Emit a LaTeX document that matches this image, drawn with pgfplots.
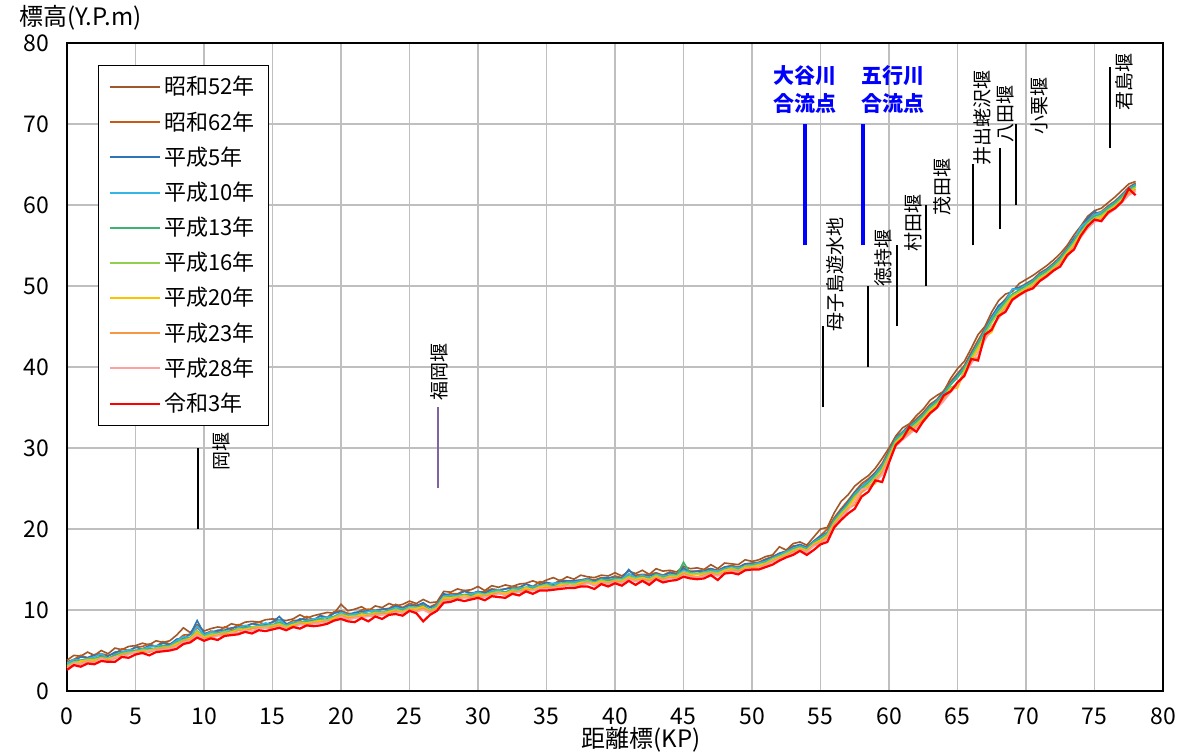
\documentclass[border=0pt]{standalone}
\usepackage{fontspec}
\setmainfont{Noto Sans CJK JP}
\usepackage{pgfplots}
\usepackage{pgfplotstable}
\pgfplotsset{compat=1.18}
\definecolor{cA}{HTML}{A0582A}
\definecolor{cB}{HTML}{C55A11}
\definecolor{cC}{HTML}{2E75B6}
\definecolor{cD}{HTML}{33B5E8}
\definecolor{cE}{HTML}{3CB371}
\definecolor{cF}{HTML}{8FD14F}
\definecolor{cG}{HTML}{FFC000}
\definecolor{cH}{HTML}{F79646}
\definecolor{cI}{HTML}{FFA0A0}
\definecolor{cJ}{HTML}{FF0000}
\definecolor{weirpurple}{HTML}{8064A2}
\definecolor{gridgray}{HTML}{BFBFBF}
\pgfplotstableread{
x a b c d e f g h i j
0.0 3.8 3.6 3.5 3.4 3.2 3.1 3.0 2.9 2.8 2.6
0.5 4.4 3.9 3.7 3.9 3.6 3.6 3.3 3.4 3.4 3.2
1.0 4.3 4.4 4.2 3.8 3.8 3.6 3.7 3.4 3.3 3.0
1.5 4.8 4.1 4.1 4.0 3.9 3.9 3.8 3.7 3.6 3.4
2.0 4.4 4.5 4.4 4.2 4.0 3.9 3.8 3.6 3.5 3.3
2.5 5.0 4.6 4.4 4.6 4.3 4.1 4.0 4.1 4.0 3.7
3.0 4.6 4.4 4.3 4.0 4.0 4.0 3.9 3.8 3.6 3.6
3.5 5.3 4.6 4.8 4.5 4.4 4.2 4.2 4.0 4.2 3.6
4.0 5.1 5.2 4.9 4.8 4.7 4.6 4.5 4.5 4.2 4.2
4.5 5.5 5.0 4.9 5.1 4.8 4.8 4.5 4.6 4.5 4.1
5.0 5.6 5.4 5.4 5.0 5.0 4.8 4.9 4.7 4.8 4.5
5.5 5.9 5.5 5.2 5.2 5.1 5.1 4.9 4.9 4.6 4.7
6.0 5.7 5.8 5.6 5.4 5.2 5.0 5.0 4.8 5.0 4.4
6.5 6.2 5.5 5.5 5.6 5.3 5.3 5.1 5.1 5.0 4.8
7.0 6.0 6.1 5.9 5.6 5.6 5.4 5.3 5.3 5.1 4.9
7.5 6.2 5.8 5.7 5.6 5.5 5.5 5.3 5.3 5.2 5.0
8.0 6.9 6.2 6.4 6.2 6.0 5.9 5.8 5.6 5.5 5.2
8.5 7.8 6.9 6.5 6.7 6.4 6.3 6.1 6.2 6.0 5.8
9.0 7.2 7.0 7.0 6.6 6.6 6.5 6.5 6.3 6.2 6.0
9.5 8.2 7.8 8.7 8.0 7.4 7.4 7.2 7.0 6.9 6.6
10.0 7.4 7.0 7.1 6.9 6.8 6.7 6.6 6.5 6.4 6.2
10.5 7.7 7.4 7.2 7.3 7.0 7.0 6.8 6.7 6.5 6.5
11.0 7.9 7.3 7.5 7.2 7.1 7.0 7.0 6.9 6.8 6.3
11.5 7.8 7.9 7.5 7.4 7.3 7.3 7.0 7.1 6.8 6.8
12.0 8.3 7.6 7.8 7.4 7.4 7.2 7.3 7.0 7.1 6.9
12.5 8.1 8.2 7.9 7.8 7.7 7.7 7.5 7.5 7.2 7.0
13.0 8.5 8.0 7.9 8.1 7.8 7.6 7.6 7.4 7.5 7.3
13.5 8.6 8.3 8.3 7.9 7.9 7.9 7.7 7.7 7.4 7.1
14.0 8.5 8.5 8.2 8.1 8.0 7.9 7.9 7.8 7.7 7.5
14.5 8.8 8.2 8.2 8.4 8.1 8.0 7.8 7.8 7.8 7.4
15.0 8.9 8.5 8.5 8.1 8.1 8.1 8.0 7.9 7.6 7.6
15.5 8.8 8.8 9.2 8.8 8.5 8.3 8.2 8.1 8.0 7.8
16.0 8.7 8.2 8.3 8.1 8.0 8.0 7.8 7.7 7.7 7.5
16.5 8.9 8.7 8.4 8.5 8.3 8.2 8.2 8.0 7.8 7.9
17.0 9.4 8.7 8.9 8.5 8.5 8.5 8.3 8.3 8.2 7.7
17.5 9.0 9.2 8.8 8.7 8.6 8.4 8.4 8.2 8.1 8.1
18.0 9.3 8.8 8.7 8.9 8.6 8.6 8.5 8.4 8.3 8.0
18.5 9.5 9.3 9.3 9.0 8.9 8.7 8.7 8.5 8.4 8.1
19.0 9.7 9.1 9.0 9.1 8.8 8.8 8.5 8.6 8.5 8.3
19.5 9.6 9.8 9.6 9.2 9.2 9.1 9.0 8.8 8.7 8.7
20.0 10.7 9.9 9.8 9.7 9.5 9.5 9.3 9.3 9.2 8.9
20.5 9.9 9.6 9.4 9.4 9.3 9.2 9.2 9.0 8.8 8.6
21.0 10.1 9.5 9.7 9.5 9.3 9.3 9.1 9.1 9.0 8.5
21.5 10.4 10.0 9.8 9.6 9.6 9.4 9.5 9.2 9.1 9.0
22.0 9.9 10.1 9.9 9.8 9.5 9.5 9.3 9.3 9.2 8.6
22.5 10.5 10.0 9.9 10.0 9.8 9.7 9.6 9.5 9.3 9.2
23.0 10.3 10.1 10.1 9.7 9.7 9.7 9.4 9.5 9.4 8.9
23.5 10.8 10.2 10.1 10.0 9.9 9.8 9.8 9.6 9.4 9.4
24.0 10.5 10.7 10.5 10.3 10.1 10.1 9.9 9.9 9.7 9.5
24.5 10.7 10.3 10.2 10.1 10.0 9.8 9.8 9.6 9.7 9.3
25.0 11.1 10.8 10.6 10.4 10.3 10.3 10.0 10.1 9.9 9.9
25.5 10.8 10.6 10.5 10.3 10.3 10.2 10.2 9.9 9.8 9.6
26.0 11.3 10.7 10.9 10.6 10.5 10.3 10.4 10.2 10.0 8.6
26.5 10.9 10.4 10.3 10.0 10.0 10.0 9.8 9.8 9.6 9.4
27.0 11.0 10.8 10.6 10.6 10.4 10.3 10.2 10.1 10.0 9.9
27.5 12.3 11.8 12.0 11.7 11.6 11.6 11.4 11.3 11.1 10.9
28.0 12.2 12.0 11.8 11.8 11.6 11.5 11.5 11.3 11.2 11.0
28.5 12.6 12.0 11.9 11.8 11.7 11.7 11.4 11.5 11.3 11.3
29.0 12.4 12.4 12.3 11.9 11.9 11.8 11.8 11.5 11.6 11.1
29.5 12.5 12.1 12.0 12.0 11.8 11.6 11.6 11.6 11.4 11.3
30.0 12.9 12.2 12.3 12.2 12.0 12.0 11.9 11.7 11.5 11.5
30.5 12.4 12.3 12.1 11.9 11.9 11.9 11.7 11.7 11.6 11.2
31.0 13.0 12.6 12.5 12.3 12.2 12.1 12.0 11.9 11.7 11.7
31.5 12.8 12.5 12.4 12.5 12.3 12.3 12.1 12.1 12.0 11.6
32.0 13.1 12.6 12.6 12.2 12.2 12.0 12.1 11.8 11.9 11.5
32.5 12.9 12.9 12.7 12.6 12.5 12.5 12.3 12.2 12.0 12.0
33.0 13.2 12.8 12.7 12.7 12.5 12.4 12.2 12.3 12.2 11.8
33.5 13.3 13.2 13.2 12.8 12.8 12.8 12.7 12.5 12.3 12.3
34.0 13.6 12.9 12.9 12.9 12.7 12.5 12.5 12.4 12.4 12.0
34.5 13.3 13.5 13.1 13.0 12.9 12.9 12.8 12.6 12.6 12.4
35.0 13.7 13.4 13.4 13.1 13.1 13.1 12.9 12.8 12.6 12.4
35.5 14.0 13.2 13.2 13.3 13.0 12.8 12.7 12.8 12.7 12.5
36.0 13.6 13.7 13.5 13.3 13.2 13.2 13.1 12.9 12.8 12.6
36.5 14.1 13.6 13.6 13.4 13.4 13.3 13.1 13.1 13.0 12.7
37.0 13.8 13.6 13.6 13.4 13.2 13.2 13.0 12.9 12.9 12.7
37.5 14.3 13.7 13.7 13.6 13.5 13.4 13.4 13.2 13.0 12.9
38.0 14.1 13.9 13.8 13.8 13.6 13.6 13.3 13.4 13.3 12.9
38.5 14.0 13.7 13.6 13.4 13.4 13.3 13.3 13.0 13.1 12.6
39.0 14.3 14.0 13.9 13.8 13.7 13.7 13.5 13.4 13.3 13.2
39.5 14.2 13.9 14.0 13.7 13.6 13.4 13.4 13.3 13.2 12.9
40.0 14.6 14.2 14.0 13.9 13.8 13.7 13.6 13.6 13.4 13.3
40.5 14.2 14.0 13.9 13.8 13.7 13.7 13.5 13.4 13.3 13.0
41.0 14.8 14.4 15.0 14.5 14.2 14.1 14.0 13.9 13.8 13.6
41.5 14.5 14.3 14.1 14.0 13.9 13.9 13.7 13.6 13.5 13.1
42.0 14.9 14.4 14.3 14.3 14.1 14.0 14.0 13.8 13.7 13.6
42.5 14.4 14.4 14.2 13.9 13.9 13.8 13.7 13.6 13.4 13.1
43.0 15.1 14.6 14.5 14.4 14.3 14.3 14.1 14.0 13.9 13.8
43.5 14.8 14.3 14.2 14.2 14.0 13.9 13.8 13.8 13.6 13.4
44.0 14.9 14.7 14.6 14.3 14.3 14.2 14.1 14.0 13.9 13.6
44.5 14.7 14.5 14.4 14.3 14.2 14.2 14.0 13.9 13.8 13.7
45.0 15.4 15.0 15.2 14.9 15.9 14.7 14.6 14.5 14.3 14.1
45.5 15.1 14.8 14.7 14.6 14.5 14.5 14.3 14.2 14.1 13.9
46.0 15.2 14.8 14.8 14.5 14.5 14.4 14.4 14.1 14.0 13.8
46.5 15.0 15.0 14.8 14.7 14.6 14.6 14.4 14.3 14.2 13.9
47.0 15.6 15.1 15.1 14.9 14.8 14.7 14.6 14.6 14.4 14.3
47.5 15.1 14.9 14.8 14.8 14.6 14.6 14.4 14.3 14.2 13.7
48.0 15.8 15.3 15.3 15.1 15.0 14.9 14.9 14.7 14.6 14.5
48.5 15.7 15.5 15.4 15.3 15.2 15.2 15.0 14.9 14.8 14.6
49.0 15.6 15.3 15.2 15.2 15.0 14.9 14.8 14.8 14.6 14.4
49.5 16.2 15.7 15.7 15.4 15.4 15.4 15.2 15.1 15.0 14.9
50.0 16.0 15.8 15.7 15.6 15.5 15.4 15.3 15.2 15.1 15.0
50.5 16.2 15.9 15.8 15.8 15.6 15.6 15.5 15.3 15.2 15.0
51.0 16.6 16.3 16.2 16.0 15.9 15.8 15.7 15.6 15.5 15.3
51.5 16.8 16.6 16.5 16.4 16.3 16.3 16.1 16.0 15.9 15.6
52.0 17.8 17.0 17.0 16.8 16.7 16.6 16.5 16.4 16.3 16.1
52.5 17.4 17.3 17.2 17.2 17.0 17.0 16.8 16.7 16.6 16.5
53.0 18.2 17.9 17.8 17.6 17.5 17.4 17.3 17.2 17.0 16.8
53.5 18.4 18.0 18.1 17.9 17.8 17.7 17.6 17.5 17.4 17.3
54.0 18.0 17.8 17.7 17.6 17.5 17.4 17.3 17.2 17.1 16.8
54.5 19.0 18.5 18.5 18.4 18.3 18.2 18.1 18.0 17.9 17.4
55.0 20.0 19.2 19.1 18.9 18.8 18.6 18.6 18.4 18.2 18.1
55.5 20.2 20.0 19.6 19.5 19.4 19.3 19.1 19.0 18.8 18.4
56.0 22.0 21.4 21.2 21.1 21.0 20.8 20.7 20.6 20.3 20.2
56.5 23.4 22.5 22.3 22.1 22.0 21.9 21.7 21.5 21.4 21.1
57.0 24.2 23.5 23.3 23.1 23.0 22.8 22.6 22.5 22.3 21.9
57.5 25.3 24.6 24.5 24.3 24.2 24.0 23.8 23.0 23.4 22.5
58.0 26.0 25.6 25.3 25.2 25.0 24.8 24.6 24.5 24.9 24.0
58.5 26.6 26.2 26.0 25.9 25.7 25.5 25.3 25.1 25.0 24.6
59.0 27.5 27.0 26.9 26.7 26.6 26.4 25.6 26.1 25.8 26.0
59.5 28.7 28.1 27.9 27.8 27.6 27.4 27.2 27.0 26.7 25.8
60.0 30.0 29.7 29.5 29.4 29.3 29.1 28.8 28.7 28.5 28.2
60.5 31.5 31.3 31.2 31.1 31.0 30.8 30.6 30.4 30.2 30.4
61.0 32.5 32.0 32.0 31.9 31.8 31.6 31.4 31.2 31.0 31.2
61.5 33.0 32.9 32.7 32.6 32.5 32.3 32.1 31.9 31.7 32.6
62.0 34.0 33.6 33.4 33.3 33.2 33.0 32.8 32.7 32.5 32.0
62.5 34.8 34.4 34.2 34.1 34.0 33.8 33.6 33.5 33.2 33.3
63.0 35.9 35.4 35.2 35.1 35.0 34.8 34.6 34.4 34.2 34.3
63.5 36.5 36.0 35.9 35.8 35.7 35.5 35.3 35.1 34.9 35.0
64.0 37.0 37.1 36.9 36.7 36.6 36.4 36.1 36.0 35.8 36.5
64.5 38.6 38.2 38.0 37.9 37.8 37.5 37.3 37.1 36.9 37.0
65.0 39.8 39.2 39.0 38.8 38.7 37.8 37.4 38.0 37.8 38.1
65.5 40.7 40.2 40.0 39.9 39.8 39.6 39.4 39.2 39.0 38.9
66.0 42.3 41.8 41.6 41.4 41.3 41.1 40.8 40.6 40.4 41.0
66.5 44.0 43.3 43.0 42.9 42.8 42.5 42.2 41.2 41.8 40.8
67.0 45.0 44.8 44.6 44.5 44.3 44.0 43.7 43.5 43.3 44.0
67.5 46.8 46.3 46.2 46.0 45.8 45.5 44.3 45.0 44.8 44.6
68.0 48.2 47.4 47.6 47.2 47.0 46.7 46.4 46.2 46.0 46.3
68.5 49.0 48.4 48.2 48.1 48.0 47.8 47.5 47.3 47.1 46.8
69.0 49.3 49.5 49.6 49.6 49.0 48.8 48.6 48.4 48.2 48.3
69.5 50.3 49.8 49.8 49.6 49.5 49.3 49.1 48.9 48.8 48.9
70.0 50.8 50.3 50.2 50.1 50.0 49.8 49.6 49.5 49.3 49.4
70.5 51.3 50.8 50.7 50.6 50.5 50.3 50.1 50.0 49.8 49.7
71.0 51.9 51.6 51.5 51.4 51.3 51.1 50.9 50.8 50.6 50.6
71.5 52.5 52.1 52.0 51.9 51.8 51.6 51.4 51.3 51.1 51.2
72.0 53.2 52.8 52.7 52.6 52.5 52.3 52.1 52.0 51.8 51.9
72.5 54.0 53.6 53.5 53.4 53.3 53.1 52.9 52.8 52.6 52.4
73.0 55.0 54.7 54.6 54.5 54.4 54.2 54.0 53.8 53.6 53.8
73.5 56.3 55.8 55.9 55.6 55.5 55.3 55.1 54.9 54.7 54.5
74.0 57.4 57.0 57.0 57.3 56.8 56.6 56.4 56.2 56.0 56.2
74.5 58.6 58.2 58.4 58.0 57.9 57.7 57.5 57.3 57.1 57.4
75.0 59.3 58.9 59.2 58.8 58.6 58.4 58.2 58.0 57.9 58.2
75.5 59.6 59.2 58.7 59.1 58.9 58.7 58.5 58.3 58.2 58.0
76.0 60.3 59.9 59.8 59.7 59.6 59.4 59.2 59.0 58.9 59.1
76.5 61.0 60.5 60.4 60.3 60.2 60.0 59.8 59.7 59.5 59.6
77.0 61.8 61.3 61.2 61.1 61.0 60.8 60.6 60.5 60.3 60.4
77.5 62.6 62.2 62.1 62.0 61.9 61.7 61.5 61.4 61.2 62.0
78.0 62.9 62.7 62.6 62.5 62.4 62.2 62.0 61.9 61.7 61.2
}\profile
\begin{document}
\begin{tikzpicture}
\begin{axis}[
  scale only axis,
  width=548pt, height=324pt,
  xmin=0, xmax=80, ymin=0, ymax=80,
  xtick={0,5,...,80}, ytick={0,10,...,80},
  major tick length=0pt,
  grid=major,
  major grid style={gridgray, line width=0.7pt},
  axis line style={black, line width=1.2pt},
  /pgf/number format/assume math mode=true,
  ticklabel style={font=\fontsize{11.5}{13}\selectfont},
  yticklabel style={anchor=east, xshift=-5.5pt},
  xticklabel style={anchor=base, yshift=-16.5pt},
  xlabel={距離標(KP)},
  ylabel={標高(Y.P.m)},
  every axis x label/.style={at={(rel axis cs:0.524,0)}, anchor=base, yshift=-28pt, font=\fontsize{12}{13}\selectfont},
  every axis y label/.style={at={(rel axis cs:0,1)}, anchor=base west, xshift=-27.5pt, yshift=8.5pt, font=\fontsize{12}{13}\selectfont},
  clip=false,
  legend style={at={(0.0283,0.966)}, anchor=north west, draw=black, line width=0.5pt,
    font=\fontsize{11}{12}\selectfont, row sep=0pt, inner xsep=5pt, inner ysep=2pt,
    nodes={inner ysep=3.4pt}},
  legend cell align=left,
  legend image code/.code={\draw[line width=1pt] (0pt,0pt) -- (25pt,0pt);},
]
\addplot[cA, line width=0.8pt] table[x=x,y=a]{\profile};
\addlegendentry{昭和52年}
\addplot[cB, line width=0.8pt] table[x=x,y=b]{\profile};
\addlegendentry{昭和62年}
\addplot[cC, line width=0.8pt] table[x=x,y=c]{\profile};
\addlegendentry{平成5年}
\addplot[cD, line width=0.8pt] table[x=x,y=d]{\profile};
\addlegendentry{平成10年}
\addplot[cE, line width=0.8pt] table[x=x,y=e]{\profile};
\addlegendentry{平成13年}
\addplot[cF, line width=0.8pt] table[x=x,y=f]{\profile};
\addlegendentry{平成16年}
\addplot[cG, line width=0.8pt] table[x=x,y=g]{\profile};
\addlegendentry{平成20年}
\addplot[cH, line width=0.8pt] table[x=x,y=h]{\profile};
\addlegendentry{平成23年}
\addplot[cI, line width=0.8pt] table[x=x,y=i]{\profile};
\addlegendentry{平成28年}
\addplot[cJ, line width=1.1pt] table[x=x,y=j]{\profile};
\addlegendentry{令和3年}
% annotation lines
\addplot[black, line width=1pt, forget plot] coordinates {(9.55,20) (9.55,30)};
\addplot[weirpurple, line width=1pt, forget plot] coordinates {(27.1,25) (27.1,35)};
\addplot[blue, line width=2pt, forget plot] coordinates {(53.9,55) (53.9,70)};
\addplot[blue, line width=2pt, forget plot] coordinates {(58.1,55) (58.1,70)};
\addplot[black, line width=1pt, forget plot] coordinates {(55.2,35) (55.2,45)};
\addplot[black, line width=1pt, forget plot] coordinates {(58.5,40) (58.5,50)};
\addplot[black, line width=1pt, forget plot] coordinates {(60.6,45) (60.6,55)};
\addplot[black, line width=1pt, forget plot] coordinates {(62.7,50) (62.7,60)};
\addplot[black, line width=1pt, forget plot] coordinates {(66.1,55) (66.1,65)};
\addplot[black, line width=1pt, forget plot] coordinates {(68.1,57) (68.1,67)};
\addplot[black, line width=1pt, forget plot] coordinates {(69.3,60) (69.3,70)};
\addplot[black, line width=1pt, forget plot] coordinates {(76.1,67) (76.1,77)};
% labels
\begin{scope}[every node/.style={rotate=90, anchor=east, inner sep=0pt, font=\fontsize{9.5}{10}\selectfont}]
\node at (axis cs:11.3,32.0) {岡堰};
\node at (axis cs:27.2,43.0) {福岡堰};
\node at (axis cs:56.1,58.5) {母子島遊水地};
\node at (axis cs:59.6,57.0) {徳持堰};
\node at (axis cs:61.8,61.4) {村田堰};
\node at (axis cs:63.9,65.8) {茂田堰};
\node at (axis cs:66.8,76.7) {井出蛯沢堰};
\node at (axis cs:68.5,74.8) {八田堰};
\node at (axis cs:71.0,75.8) {小栗堰};
\node at (axis cs:77.2,78.8) {君島堰};
\end{scope}
\node[anchor=north, align=center, text=blue, inner sep=0pt, font=\bfseries\fontsize{10.5}{14}\selectfont] at (axis cs:53.9,77.3) {大谷川\\合流点};
\node[anchor=north, align=center, text=blue, inner sep=0pt, font=\bfseries\fontsize{10.5}{14}\selectfont] at (axis cs:60.3,77.3) {五行川\\合流点};
\end{axis}
\pgfresetboundingbox
\path[use as bounding box] ([xshift=-33.5pt,yshift=-31pt]current axis.south west) rectangle ([xshift=11.5pt,yshift=21.5pt]current axis.north east);
\end{tikzpicture}
\end{document}
